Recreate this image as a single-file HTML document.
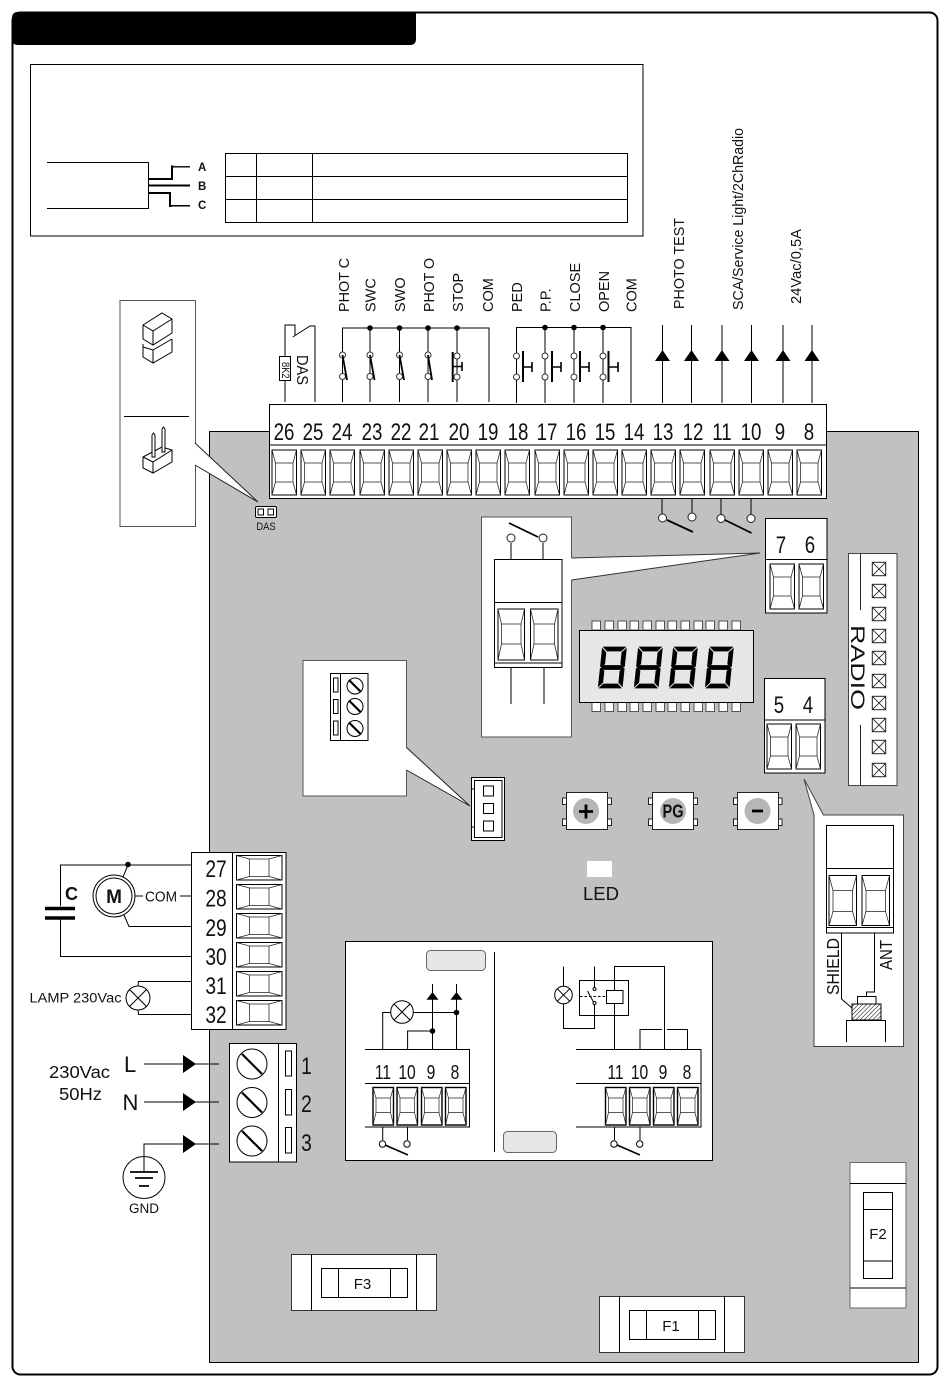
<!DOCTYPE html>
<html><head><meta charset="utf-8"><style>
html,body{margin:0;padding:0;background:#fff}
svg{display:block}
text{font-family:"Liberation Sans",sans-serif;fill:#111}
.n{font-size:24px;text-anchor:middle}
.s{font-size:20px;text-anchor:middle}
.l{font-size:14.5px}
</style></head><body>
<svg width="950" height="1387" viewBox="0 0 950 1387" xmlns="http://www.w3.org/2000/svg" fill="none" stroke="#000" stroke-width="1">
<defs>
<g id="T"><rect width="24.5" height="45" fill="#fff"/><path d="M0,0L3.5,13V32L0,45M24.5,0L21,13V32L24.5,45M3.5,13H21M3.5,32H21" stroke="#222" stroke-width=".75"/></g>
<g id="S"><rect width="20.5" height="37.5" fill="#fff" stroke-width="1.4"/><path d="M0,0L3,10.5V25L0,37.5M20.5,0L17.5,10.5V25L20.5,37.5M3,10.5H17.5M3,25H17.5" stroke="#222" stroke-width=".7"/></g>
<g id="B"><rect width="27.5" height="50" fill="#fff"/><path d="M0,0L4,15V36L0,50M27.5,0L23.5,15V36L27.5,50M4,15H23.5M4,36H23.5" stroke="#222" stroke-width=".75"/></g>
<g id="H"><rect width="45.5" height="24.5" fill="#fff"/><path d="M0,0L13,3.5H32.5L45.5,0M0,24.5L13,21H32.5L45.5,24.5M13,3.5V21M32.5,3.5V21" stroke="#222" stroke-width=".75"/></g>
<g id="X"><rect x="-6.7" y="-6.7" width="13.4" height="13.4" fill="#fff" stroke="#222"/><path d="M-6.7,-6.7L6.7,6.7M-6.7,6.7L6.7,-6.7" stroke="#222" stroke-width=".8"/></g>
<g id="A"><path d="M0,0L-7.5,11H7.5Z" fill="#000" stroke="none"/></g>
<g id="R"><path d="M0,-9L13,0L0,9Z" fill="#000" stroke="none"/></g>
<g id="C"><circle r="3" fill="#fff" stroke="#333"/></g>
<g id="D"><circle r="2.8" fill="#000" stroke="none"/></g>
<g id="W"><circle r="4" fill="#fff" stroke="#222"/></g>
<g id="K"><circle r="15" fill="#fff"/><path d="M-10,-10L10,10" stroke-width="2.2"/></g>
<g id="k"><circle r="8" fill="#fff"/><path d="M-6,-6L6,6" stroke-width="2.2"/></g>
<g id="G" fill="#000" stroke="#000" stroke-width=".7">
<path d="M1,0H23L19,4H5Z"/><path d="M3,18.5H21L23,20.5L21,22.5H3L1,20.5Z"/><path d="M1,41H23L19,37H5Z"/>
<path d="M0,1.5L4,5.5V17L1,19.5L0,19.5Z"/><path d="M24,1.5L20,5.5V17L23,19.5L24,19.5Z"/>
<path d="M0,21.5L1,21.5L4,24V35.5L0,39.5Z"/><path d="M24,21.5L23,21.5L20,24V35.5L24,39.5Z"/>
</g>
<pattern id="hatch" width="3" height="3" patternUnits="userSpaceOnUse" patternTransform="rotate(-45)"><rect width="3" height="3" fill="#fff" stroke="none"/><path d="M0,0H3" stroke="#000" stroke-width="1"/></pattern>
</defs>

<rect width="950" height="1387" fill="#fff" stroke="none"/>
<rect x="12.5" y="12.5" width="925" height="1362" rx="8" stroke-width="2" fill="#fff"/>
<path d="M18,12H416V39Q416,45 410,45H18Q12,45 12,39V18Q12,12 18,12Z" fill="#000" stroke="none"/>

<!-- top box -->
<rect x="30.5" y="64.5" width="612.5" height="171.5"/>
<path d="M225.5,153.5H627.5V222.5H225.5ZM225.5,176.5H627.5M225.5,199.5H627.5M256.5,153.5V222.5M312.5,153.5V222.5"/>
<path d="M47,162.5H148.5V208.5H47"/>
<path d="M148,179H172V166.5H190M148,185.5H190M148,193H170V206H190" stroke-width="2"/>
<path d="M173.5,165.8H190M171.5,206.8H190" stroke="#fff" stroke-width=".6"/>
<g stroke="none" font-size="11.5" font-weight="bold">
<text x="198" y="171">A</text>
<text x="198" y="190">B</text>
<text x="198" y="209">C</text>
</g>

<!-- board -->
<rect x="209.5" y="431.5" width="709" height="931" fill="#c0c1c3"/>

<!-- jumper panel -->
<rect x="120" y="300.5" width="75.5" height="226" fill="#fff" stroke="#555"/>
<path d="M195,443L258,502L195,465Z" fill="#fff" stroke="none"/>
<path d="M195,443L258,502L195,465" stroke="#222"/>
<path d="M124,416.5H189"/>
<path d="M143,325L162,313L172,319V333L153,345L143,339ZM143,325L153,331L172,319M153,331V345M143,347L153,350L172,339M143,344V357L153,363L172,352V339M153,350V363" stroke-width="1" fill="#fff"/>
<path d="M143,457L162,447L172,450V462L153,473L143,468ZM143,457L153,462L172,450M153,462V473" fill="#fff"/>
<path d="M152,457V435L153.5,433L155,435V457ZM162,452V429L163.5,427L165,429V452Z" fill="#fff"/>
<rect x="255.5" y="506.5" width="21" height="11" rx="1.5" fill="#fff"/>
<rect x="258" y="509" width="5.5" height="6" fill="#fff"/><rect x="268" y="509" width="5.5" height="6" fill="#fff"/>
<text transform="translate(266 530) scale(.85 1)" font-size="11" text-anchor="middle" stroke="none">DAS</text>

<!-- main terminal block -->
<rect x="269.5" y="404.5" width="557" height="94" fill="#fff"/>
<path d="M269.5,445H826.5"/>
<use href="#T" x="272" y="450"/><use href="#T" x="301" y="450"/><use href="#T" x="330" y="450"/><use href="#T" x="360" y="450"/><use href="#T" x="389" y="450"/><use href="#T" x="418" y="450"/><use href="#T" x="447" y="450"/><use href="#T" x="476" y="450"/><use href="#T" x="505" y="450"/><use href="#T" x="535" y="450"/><use href="#T" x="564" y="450"/><use href="#T" x="593" y="450"/><use href="#T" x="622" y="450"/><use href="#T" x="651" y="450"/><use href="#T" x="680" y="450"/><use href="#T" x="710" y="450"/><use href="#T" x="739" y="450"/><use href="#T" x="768" y="450"/><use href="#T" x="797" y="450"/>
<g stroke="none">
<text class="n" transform="translate(284 440) scale(.78 1)">26</text>
<text class="n" transform="translate(313 440) scale(.78 1)">25</text>
<text class="n" transform="translate(342 440) scale(.78 1)">24</text>
<text class="n" transform="translate(372 440) scale(.78 1)">23</text>
<text class="n" transform="translate(401 440) scale(.78 1)">22</text>
<text class="n" transform="translate(429 440) scale(.78 1)">21</text>
<text class="n" transform="translate(459 440) scale(.78 1)">20</text>
<text class="n" transform="translate(488 440) scale(.78 1)">19</text>
<text class="n" transform="translate(518 440) scale(.78 1)">18</text>
<text class="n" transform="translate(547 440) scale(.78 1)">17</text>
<text class="n" transform="translate(576 440) scale(.78 1)">16</text>
<text class="n" transform="translate(605 440) scale(.78 1)">15</text>
<text class="n" transform="translate(634 440) scale(.78 1)">14</text>
<text class="n" transform="translate(663 440) scale(.78 1)">13</text>
<text class="n" transform="translate(693 440) scale(.78 1)">12</text>
<text class="n" transform="translate(722 440) scale(.78 1)">11</text>
<text class="n" transform="translate(751 440) scale(.78 1)">10</text>
<text class="n" transform="translate(780 440) scale(.78 1)">9</text>
<text class="n" transform="translate(809 440) scale(.78 1)">8</text>
</g>

<!-- top wires left -->
<path d="M285,402V325H295V335M292.7,337L310,326H315V402"/>
<rect x="279.5" y="356.5" width="11" height="24" fill="#fff"/>
<text transform="translate(282 362) rotate(90) scale(.85 1)" font-size="11" stroke="none">8K2</text>
<text transform="translate(297 355) rotate(90)" font-size="16" stroke="none" textLength="30" lengthAdjust="spacingAndGlyphs">DAS</text>
<path d="M342.5,402V328H489V402M370,328V402M399.5,328V402M428,328V402M457,328V402"/>
<use href="#D" x="370" y="328"/><use href="#D" x="399.5" y="328"/><use href="#D" x="428" y="328"/><use href="#D" x="457" y="328"/>
<use href="#C" x="342.5" y="355"/><use href="#C" x="342.5" y="376.5"/><use href="#C" x="370" y="355"/><use href="#C" x="370" y="376.5"/><use href="#C" x="399.5" y="355"/><use href="#C" x="399.5" y="376.5"/><use href="#C" x="428" y="355"/><use href="#C" x="428" y="376.5"/><use href="#C" x="457" y="356"/><use href="#C" x="457" y="377"/>
<path d="M342.5,355L347,380M370,355L374.5,380M399.5,355L404,380M428,355L432,380" stroke-width="1.8"/>
<path d="M452.7,352V382" stroke-width="2"/><path d="M453,366.5H462M462,362V371" stroke-width="1.6"/>
<!-- second bus -->
<path d="M516.5,403V327.5H631V403M545,327.5V403M574,327.5V403M603,327.5V403"/>
<use href="#D" x="545" y="327.5"/><use href="#D" x="574" y="327.5"/><use href="#D" x="603" y="327.5"/>
<use href="#C" x="516.5" y="356"/><use href="#C" x="516.5" y="377"/><use href="#C" x="545" y="356"/><use href="#C" x="545" y="377"/><use href="#C" x="574" y="356"/><use href="#C" x="574" y="377"/><use href="#C" x="603" y="356"/><use href="#C" x="603" y="377"/>
<path d="M523,351V382M552,351V382M580,351V382M608.5,351V382" stroke-width="2"/>
<path d="M523,367H532M532,362V372M552,367H561M561,362V372M580,367H589M589,362V372M608.5,367H618M618,362V372" stroke-width="1.6"/>
<!-- arrows -->
<path d="M662.5,325V403M691.5,325V403M722,325V403M751.5,325V403M783,325V403M812,325V403"/>
<use href="#A" x="662.5" y="350"/><use href="#A" x="691.5" y="350"/><use href="#A" x="722" y="350"/><use href="#A" x="751.5" y="350"/><use href="#A" x="783" y="350"/><use href="#A" x="812" y="350"/>
<!-- top labels -->
<g stroke="none">
<text class="l" transform="translate(349 312) rotate(-90)" textLength="54" lengthAdjust="spacingAndGlyphs">PHOT C</text>
<text class="l" transform="translate(375.5 312) rotate(-90)">SWC</text>
<text class="l" transform="translate(405 312) rotate(-90)">SWO</text>
<text class="l" transform="translate(434 312) rotate(-90)" textLength="54" lengthAdjust="spacingAndGlyphs">PHOT O</text>
<text class="l" transform="translate(463 312) rotate(-90)">STOP</text>
<text class="l" transform="translate(493 312) rotate(-90)">COM</text>
<text class="l" transform="translate(522 312) rotate(-90)">PED</text>
<text class="l" transform="translate(550.5 312) rotate(-90)">P.P.</text>
<text class="l" transform="translate(580 312) rotate(-90)">CLOSE</text>
<text class="l" transform="translate(609 312) rotate(-90)">OPEN</text>
<text class="l" transform="translate(636.5 312) rotate(-90)">COM</text>
<text class="l" transform="translate(684 309) rotate(-90)" textLength="91" lengthAdjust="spacingAndGlyphs">PHOTO TEST</text>
<text class="l" transform="translate(743 310) rotate(-90)" textLength="182" lengthAdjust="spacingAndGlyphs">SCA/Service Light/2ChRadio</text>
<text class="l" transform="translate(801 304) rotate(-90)" textLength="75" lengthAdjust="spacingAndGlyphs">24Vac/0,5A</text>
</g>
<!-- under-block switches -->
<path d="M662,498V514M692,498V513M721,498V514M751,498V514"/>
<use href="#W" x="662.5" y="518"/><use href="#W" x="692" y="517"/><use href="#W" x="721" y="518.5"/><use href="#W" x="751" y="518.5"/>
<path d="M667,520L693,532M725,520L751.5,533" stroke-width="1.8"/>

<!-- 7/6 callout -->
<rect x="481.5" y="517" width="90" height="220" fill="#fff" stroke="#555"/>
<path d="M571,558L760,553L571,580Z" fill="#fff" stroke="none"/>
<path d="M571.5,558L760,553L571.5,580" stroke="#333"/>
<rect x="494.5" y="559.5" width="67.5" height="108" fill="#fff"/>
<path d="M494.5,602.5H562M494.5,663H562M511,543V559M543,543V559M511,668V704M544,668V704"/>
<use href="#W" x="511" y="538"/><use href="#W" x="543" y="538"/>
<path d="M509,523L538,537" stroke-width="1.8"/>
<g><rect x="498" y="609" width="26.5" height="51" fill="#fff"/><path d="M498,609L501.5,624V644L498,660M524.5,609L521,624V644L524.5,660M501.5,624H521M501.5,644H521" stroke="#222" stroke-width=".75"/>
<rect x="530.5" y="609" width="27.5" height="51" fill="#fff"/><path d="M530.5,609L534,624V644L530.5,660M558,609L554.5,624V644L558,660M534,624H554.5M534,644H554.5" stroke="#222" stroke-width=".75"/></g>

<!-- 7/6 -->
<rect x="765.5" y="518.5" width="61.5" height="94.5" fill="#fff"/>
<path d="M765.5,559.5H827"/>
<use href="#T" x="770" y="564"/><use href="#T" x="799" y="564"/>
<text class="n" transform="translate(781 553) scale(.78 1)" stroke="none">7</text>
<text class="n" transform="translate(810 553) scale(.78 1)" stroke="none">6</text>
<!-- 5/4 -->
<rect x="764.5" y="678.5" width="60.5" height="94.5" fill="#fff"/>
<path d="M764.5,720H825"/>
<use href="#T" x="767" y="724"/><use href="#T" x="796" y="724"/>
<text class="n" transform="translate(779 713) scale(.78 1)" stroke="none">5</text>
<text class="n" transform="translate(808 713) scale(.78 1)" stroke="none">4</text>

<!-- display -->
<g fill="#fff" stroke="#333" stroke-width=".8">
<rect x="592" y="621" width="8.5" height="9"/><rect x="605" y="621" width="8.5" height="9"/><rect x="618" y="621" width="8.5" height="9"/><rect x="630" y="621" width="8.5" height="9"/><rect x="643" y="621" width="8.5" height="9"/><rect x="656" y="621" width="8.5" height="9"/><rect x="668" y="621" width="8.5" height="9"/><rect x="681" y="621" width="8.5" height="9"/><rect x="694" y="621" width="8.5" height="9"/><rect x="706" y="621" width="8.5" height="9"/><rect x="719" y="621" width="8.5" height="9"/><rect x="732" y="621" width="8.5" height="9"/>
<rect x="592" y="702.5" width="8.5" height="9"/><rect x="605" y="702.5" width="8.5" height="9"/><rect x="618" y="702.5" width="8.5" height="9"/><rect x="630" y="702.5" width="8.5" height="9"/><rect x="643" y="702.5" width="8.5" height="9"/><rect x="656" y="702.5" width="8.5" height="9"/><rect x="668" y="702.5" width="8.5" height="9"/><rect x="681" y="702.5" width="8.5" height="9"/><rect x="694" y="702.5" width="8.5" height="9"/><rect x="706" y="702.5" width="8.5" height="9"/><rect x="719" y="702.5" width="8.5" height="9"/><rect x="732" y="702.5" width="8.5" height="9"/>
</g>
<rect x="579.5" y="630.5" width="174" height="72" fill="#e6e7e8"/>
<use href="#G" transform="translate(602.5 647) skewX(-6)"/>
<use href="#G" transform="translate(638.5 647) skewX(-6)"/>
<use href="#G" transform="translate(673.5 647) skewX(-6)"/>
<use href="#G" transform="translate(709.5 647) skewX(-6)"/>

<!-- RADIO -->
<rect x="848.5" y="553.5" width="48.5" height="232" fill="#fff" stroke="#444"/>
<path d="M860.5,553.5V610M860.5,725V785.5" stroke="#222"/>
<text transform="translate(851 625) rotate(90)" font-size="19.5" stroke="none" textLength="85" lengthAdjust="spacingAndGlyphs">RADIO</text>
<use href="#X" x="879" y="569"/><use href="#X" x="879" y="591"/><use href="#X" x="879" y="614"/><use href="#X" x="879" y="636"/><use href="#X" x="879" y="658"/><use href="#X" x="879" y="681"/><use href="#X" x="879" y="703"/><use href="#X" x="879" y="725"/><use href="#X" x="879" y="747"/><use href="#X" x="879" y="770"/>

<!-- buttons -->
<g stroke="#222" fill="#fff">
<rect x="562.5" y="798" width="4" height="6.5"/><rect x="562.5" y="819" width="4" height="6.5"/><rect x="607.5" y="798" width="4" height="6.5"/><rect x="607.5" y="819" width="4" height="6.5"/><rect x="566.5" y="792.5" width="41" height="37"/>
<rect x="648.5" y="798" width="4" height="6.5"/><rect x="648.5" y="819" width="4" height="6.5"/><rect x="693.5" y="798" width="4" height="6.5"/><rect x="693.5" y="819" width="4" height="6.5"/><rect x="652.5" y="792.5" width="41" height="37"/>
<rect x="733.5" y="798" width="4" height="6.5"/><rect x="733.5" y="819" width="4" height="6.5"/><rect x="778" y="798" width="4" height="6.5"/><rect x="778" y="819" width="4" height="6.5"/><rect x="737.5" y="792.5" width="41" height="37"/>
</g>
<g fill="#b5b6b8" stroke="none"><circle cx="586" cy="811" r="13"/><circle cx="673" cy="811" r="13"/><circle cx="757.5" cy="811" r="13"/></g>
<path d="M579,811.5H593M586,804.5V818.5M752,811H763" stroke-width="2.8"/>
<text x="662.5" y="817.5" font-size="18" font-weight="bold" stroke="none" textLength="21" lengthAdjust="spacingAndGlyphs">PG</text>

<!-- LED -->
<rect x="587" y="861" width="25" height="16" fill="#fff" stroke="none"/>
<text x="601" y="900" font-size="18.5" text-anchor="middle" stroke="none">LED</text>

<!-- connector callout -->
<rect x="303" y="660.5" width="103.5" height="135.5" fill="#fff" stroke="#555"/>
<path d="M406,747.5L470,806L406,770Z" fill="#fff" stroke="none"/>
<path d="M406.5,747.5L470,806L406.5,770" stroke="#222"/>
<rect x="330.5" y="673.5" width="37.5" height="67" fill="#fff"/><path d="M340.5,673.5V740.5"/>
<rect x="333.5" y="678" width="4.5" height="14"/><rect x="333.5" y="699.5" width="4.5" height="14"/><rect x="333.5" y="721" width="4.5" height="14"/>
<use href="#k" x="355" y="686"/><use href="#k" x="355" y="706.5"/><use href="#k" x="355" y="728.5"/>
<rect x="471.5" y="777.5" width="33" height="63" fill="#fff"/><rect x="474.5" y="780.5" width="27.5" height="57"/>
<path d="M471.5,789H474.5M471.5,827H474.5"/>
<rect x="483.5" y="786" width="10" height="10"/><rect x="483.5" y="803.5" width="10" height="10"/><rect x="483.5" y="821" width="10" height="10"/>

<!-- shield callout -->
<path d="M804,779L814,815V1046.5H903.5V815H823.5L804,779" fill="#fff" stroke="#444"/>
<rect x="826.5" y="825.5" width="67" height="107.5" fill="#fff"/>
<path d="M826.5,868.5H893.5M826.5,927.5H893.5"/>
<use href="#B" x="829" y="875.5"/><use href="#B" x="862" y="875.5"/>
<path d="M841.5,933V999L852,1008M874.5,933V992H866.5V996"/>
<rect x="857.5" y="996.5" width="18.5" height="8" fill="#fff"/>
<rect x="852" y="1004" width="29" height="16" fill="url(#hatch)"/>
<path d="M846.5,1042V1020.5H885.5V1042"/>
<text transform="translate(839 995) rotate(-90)" font-size="17.5" stroke="none" textLength="57" lengthAdjust="spacingAndGlyphs">SHIELD</text>
<text transform="translate(892 970) rotate(-90)" font-size="17.5" stroke="none" textLength="30" lengthAdjust="spacingAndGlyphs">ANT</text>

<!-- motor terminals -->
<rect x="191.5" y="852.5" width="94.5" height="177" fill="#fff"/>
<path d="M232.5,852.5V1029.5"/>
<use href="#H" x="236.5" y="855.5"/><use href="#H" x="236.5" y="884.5"/><use href="#H" x="236.5" y="913.5"/><use href="#H" x="236.5" y="942.5"/><use href="#H" x="236.5" y="971.5"/><use href="#H" x="236.5" y="1000.5"/>
<g stroke="none">
<text class="n" transform="translate(216 877) scale(.8 1)">27</text>
<text class="n" transform="translate(216 906.5) scale(.8 1)">28</text>
<text class="n" transform="translate(216 936) scale(.8 1)">29</text>
<text class="n" transform="translate(216 965) scale(.8 1)">30</text>
<text class="n" transform="translate(216 994) scale(.8 1)">31</text>
<text class="n" transform="translate(216 1023) scale(.8 1)">32</text>
</g>
<path d="M191,865H60.5V906M60.5,918V956.5H191M128,865L123,877M124,915L129,926.5H191M135,896H143M180,896H191"/>
<path d="M45,908.5H75M45,918H75" stroke-width="3.4"/>
<use href="#D" x="128" y="864.5"/>
<circle cx="114" cy="896" r="21" fill="#fff"/><circle cx="114" cy="896" r="18"/>
<text x="114" y="903" font-size="19" font-weight="bold" text-anchor="middle" stroke="none">M</text>
<text x="65" y="900" font-size="18" font-weight="bold" stroke="none">C</text>
<text x="145" y="901.5" font-size="15" stroke="none" textLength="32" lengthAdjust="spacingAndGlyphs">COM</text>
<path d="M138,986L138.5,981.5H191M138,1010L138.5,1014.5H191"/>
<circle cx="138" cy="998" r="12" fill="#fff"/><path d="M129.5,989.5L146.5,1006.5M129.5,1006.5L146.5,989.5"/>
<text x="29.5" y="1002.5" font-size="13.5" stroke="none" textLength="92" lengthAdjust="spacingAndGlyphs">LAMP 230Vac</text>

<!-- power -->
<rect x="229.5" y="1043.5" width="67" height="118.5" fill="#fff"/><path d="M278.5,1043.5V1162"/>
<use href="#K" x="252" y="1064"/><use href="#K" x="252" y="1102.5"/><use href="#K" x="252" y="1141"/>
<rect x="285.5" y="1051" width="6" height="25"/><rect x="285.5" y="1089.5" width="6" height="25.5"/><rect x="285.5" y="1127.5" width="6" height="25.5"/>
<g stroke="none">
<text class="n" transform="translate(306.5 1074) scale(.8 1)">1</text>
<text class="n" transform="translate(306.5 1112) scale(.8 1)">2</text>
<text class="n" transform="translate(306.5 1151) scale(.8 1)">3</text>
<text x="124" y="1072" font-size="22">L</text>
<text x="122.5" y="1110" font-size="22">N</text>
<text x="49" y="1078" font-size="17.5" textLength="61" lengthAdjust="spacingAndGlyphs">230Vac</text>
<text x="59" y="1100" font-size="17.5" textLength="43" lengthAdjust="spacingAndGlyphs">50Hz</text>
<text x="144" y="1213" font-size="13.5" text-anchor="middle">GND</text>
</g>
<path d="M144,1064H219M144,1102H219M219,1144H144V1172"/>
<use href="#R" x="183" y="1064"/><use href="#R" x="183" y="1102"/><use href="#R" x="183" y="1144"/>
<circle cx="144" cy="1177.5" r="21"/>
<path d="M130,1172H158M135,1178H153M139,1186H149" stroke-width="1.8"/>

<!-- middle panel -->
<rect x="345.5" y="941.5" width="367" height="219" fill="#fff"/>
<path d="M494.5,952V1152"/>
<rect x="426.5" y="950.5" width="59" height="20" rx="4" fill="#e6e7e8" stroke="#666"/>
<rect x="503.5" y="1131.5" width="53" height="21" rx="4" fill="#e6e7e8" stroke="#666"/>
<!-- left sub -->
<path d="M365,1049.5H469.5V1127H365M365,1083.5H469.5" stroke-width="1"/>
<use href="#S" x="373" y="1087.5"/><use href="#S" x="397" y="1087.5"/><use href="#S" x="421.5" y="1087.5"/><use href="#S" x="445.5" y="1087.5"/>
<g stroke="none">
<text class="s" transform="translate(383 1079) scale(.78 1)">11</text>
<text class="s" transform="translate(407 1079) scale(.78 1)">10</text>
<text class="s" transform="translate(431 1079) scale(.78 1)">9</text>
<text class="s" transform="translate(455 1079) scale(.78 1)">8</text>
<text class="s" transform="translate(615.5 1079) scale(.78 1)">11</text>
<text class="s" transform="translate(639.5 1079) scale(.78 1)">10</text>
<text class="s" transform="translate(663 1079) scale(.78 1)">9</text>
<text class="s" transform="translate(687 1079) scale(.78 1)">8</text>
</g>
<path d="M382.7,1049V1012.5H391M413,1012.5H456.5M456.5,1049V984M432.5,1049V984M407.6,1049V1031H432.5"/>
<use href="#A" transform="translate(432.5 992) scale(.8 .7)"/><use href="#A" transform="translate(456.5 992) scale(.8 .7)"/>
<use href="#D" x="456.5" y="1012.5"/><use href="#D" x="432.5" y="1031"/>
<circle cx="402" cy="1012" r="11.3" fill="#fff"/><path d="M394,1004L410,1020M394,1020L410,1004"/>
<path d="M382.7,1127V1140M407.5,1127V1140"/>
<circle cx="382.5" cy="1144" r="3.2" fill="#fff"/><circle cx="407" cy="1144" r="3.2" fill="#fff"/>
<path d="M385,1145L408,1155" stroke-width="1.6"/>
<!-- right sub -->
<path d="M576,1049.5H701V1127H576M576,1083.5H701"/>
<use href="#S" x="605.5" y="1087.5"/><use href="#S" x="629.5" y="1087.5"/><use href="#S" x="653.5" y="1087.5"/><use href="#S" x="677.5" y="1087.5"/>
<path d="M614.5,1049V966.5H664.5V1049M594.5,966.5V987M594.5,1003V1028.5H563.5V1003M563.5,986V966.5M640,1049V1029.5H662M667,1029.5H687.5V1049"/>
<rect x="579.5" y="980.5" width="49" height="35"/>
<rect x="606.5" y="990.5" width="16.5" height="13" fill="#fff"/>
<path d="M580,996.5H606" stroke-dasharray="2.5 2"/>
<path d="M587.5,991L593.5,1002"/><circle cx="594.5" cy="989" r="1.5" fill="#fff"/><circle cx="594.5" cy="1003" r="1.5" fill="#fff"/>
<circle cx="563.5" cy="995" r="8.8" fill="#fff"/><path d="M557.3,988.8L569.7,1001.2M557.3,1001.2L569.7,988.8"/>
<path d="M614.5,1127V1140M640,1127V1140"/>
<circle cx="614" cy="1144" r="3.2" fill="#fff"/><circle cx="639.7" cy="1144" r="3.2" fill="#fff"/>
<path d="M617,1145L640,1155" stroke-width="1.6"/>

<!-- fuses -->
<rect x="291.5" y="1254.5" width="145" height="56" fill="#fff" stroke="#333"/>
<path d="M311.5,1254.5V1310.5M416.5,1254.5V1310.5"/>
<rect x="321.5" y="1268.5" width="86" height="29"/><path d="M338.5,1268.5V1297.5M390.5,1268.5V1297.5"/>
<text x="362.5" y="1289" font-size="15" text-anchor="middle" stroke="none">F3</text>
<rect x="599.5" y="1296.5" width="145" height="56" fill="#fff" stroke="#333"/>
<path d="M619.5,1296.5V1352.5M724.5,1296.5V1352.5"/>
<rect x="629.5" y="1310.5" width="86" height="29"/><path d="M646.5,1310.5V1339.5M698.5,1310.5V1339.5"/>
<text x="671" y="1331" font-size="15" text-anchor="middle" stroke="none">F1</text>
<rect x="850" y="1162.5" width="56" height="145.5" fill="#fff" stroke="#666"/>
<path d="M850,1183.5H906M850,1288H906"/>
<rect x="863.5" y="1192.5" width="29" height="86"/><path d="M863.5,1209.5H892.5M863.5,1261H892.5"/>
<text x="878" y="1239" font-size="15" text-anchor="middle" stroke="none">F2</text>
</svg>
</body></html>
